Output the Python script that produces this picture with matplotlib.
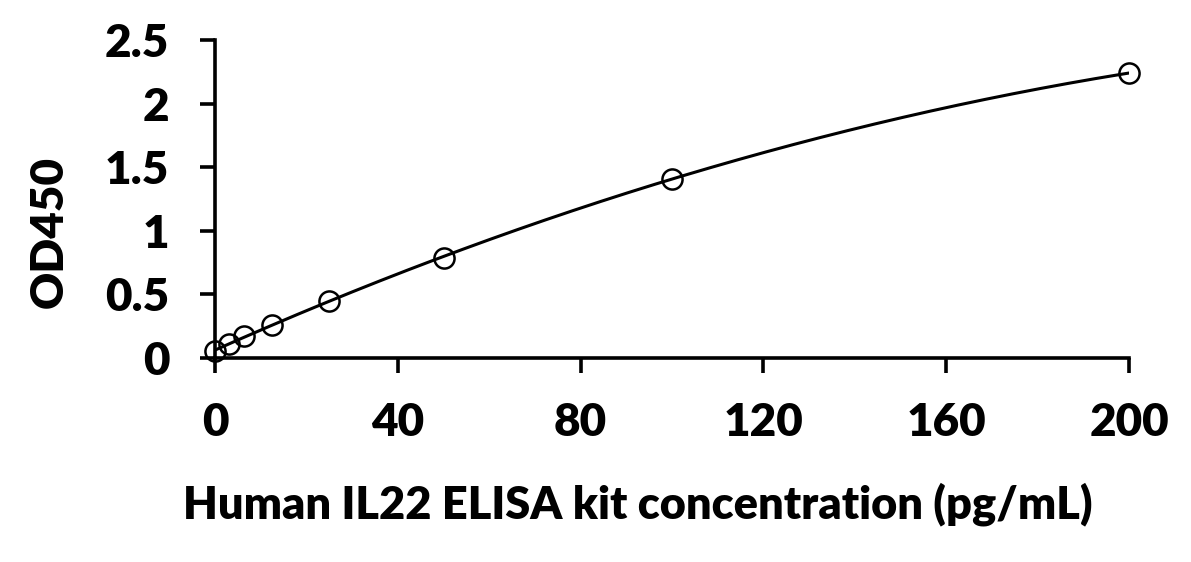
import numpy as np
import matplotlib
matplotlib.use("Agg")
import matplotlib.pyplot as plt

conc = [0, 3.125, 6.25, 12.5, 25, 50, 100, 200]
od450 = [0.055, 0.11, 0.17, 0.26, 0.45, 0.79, 1.41, 2.24]
x_ticks = [0, 40, 80, 120, 160, 200]
y_ticks = [0, 0.5, 1, 1.5, 2, 2.5]
y_tick_labels = ["0", "0.5", "1", "1.5", "2", "2.5"]
x_label = "Human IL22 ELISA kit concentration (pg/mL)"
y_label = "OD450"

plt.rcParams['font.family'] = ['Lato', 'DejaVu Sans']
plt.rcParams['font.weight'] = 'heavy'

fig = plt.figure(figsize=(11.91, 5.62), dpi=100)
ax = fig.add_axes([215/1191, 1-358/562, (1129-215)/1191, (358-40)/562])

coef = np.polyfit(conc, od450, 2)
xs = np.linspace(min(conc), max(conc), 300)
ax.plot(xs, np.polyval(coef, xs), color='black', lw=2.2, zorder=2)
ax.plot(conc, od450, linestyle='none', marker='o', ms=14.5, mfc='none',
        mec='black', mew=1.8, zorder=3, clip_on=False)

ax.set_xlim(0, 200)
ax.set_ylim(0, 2.5)
ax.set_xticks(x_ticks)
ax.set_yticks(y_ticks)
ax.set_yticklabels(y_tick_labels)
for s in ['top', 'right']:
    ax.spines[s].set_visible(False)
for s in ['left', 'bottom']:
    ax.spines[s].set_linewidth(2.6)
ax.tick_params(axis='both', length=11, width=2.6, labelsize=33, direction='out')
ax.tick_params(axis='x', pad=21)
ax.tick_params(axis='y', pad=22)
for lab in ax.get_xticklabels() + ax.get_yticklabels():
    lab.set_fontweight('heavy')

ax.set_xlabel(x_label, fontsize=32.5, fontweight='heavy')
ax.xaxis.label.set_va('baseline')
ax.xaxis.set_label_coords((637.5-215)/914, (358-518)/318)
ax.set_ylabel(y_label, fontsize=33, fontweight='heavy')
ax.yaxis.label.set_va('baseline')
ax.yaxis.set_label_coords((63-215)/914, (358-232)/318)

fig.savefig("out.png", dpi=100)
